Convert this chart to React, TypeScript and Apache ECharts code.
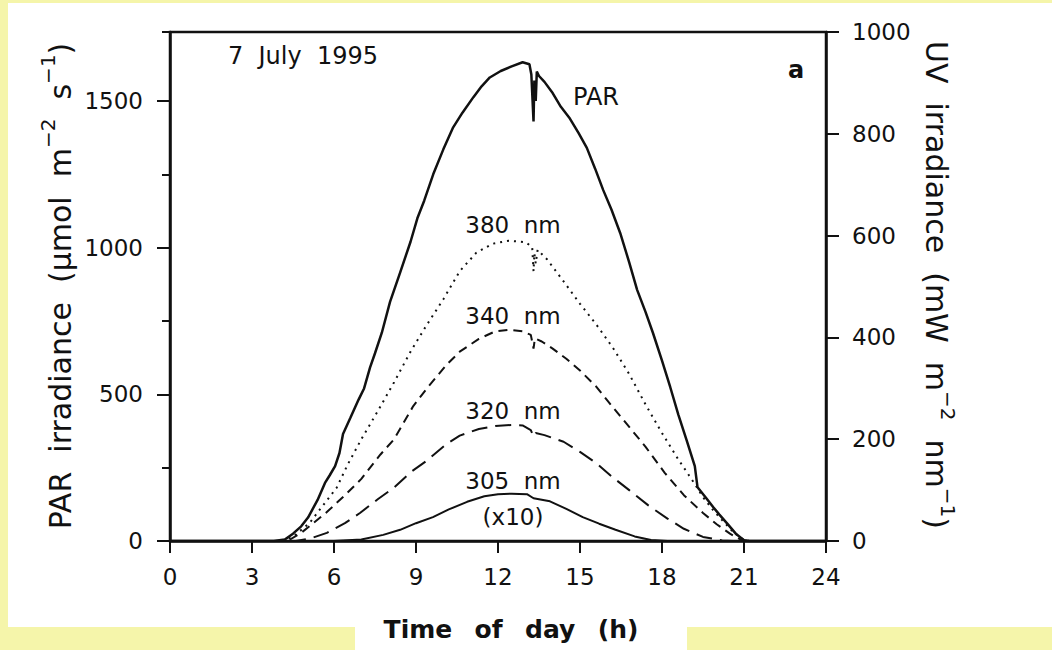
import React, { useEffect, useRef } from 'react';
import * as echarts from 'echarts';

// Hours of day (x) and irradiance values
const parData: [number, number][] = [
  [0, 0], [3.8, 0], [4.2, 5], [4.5, 25], [4.8, 50], [5.05, 80], [5.4, 140], [5.67, 198], [5.85, 225],
  [6.04, 255], [6.2, 300], [6.33, 365], [6.6, 420], [6.9, 482], [7.1, 520], [7.32, 592], [7.5, 640],
  [7.75, 710], [8.05, 815], [8.4, 910], [8.8, 1020], [9.05, 1100], [9.3, 1160], [9.63, 1250],
  [10.0, 1335], [10.36, 1410], [10.7, 1460], [11.1, 1513], [11.4, 1550], [11.7, 1580], [12.1, 1602],
  [12.5, 1618], [12.9, 1632], [13.15, 1625], [13.22, 1590], [13.3, 1430], [13.33, 1570], [13.38, 1500],
  [13.42, 1600], [13.5, 1585], [13.7, 1565], [14.0, 1527], [14.3, 1480], [14.63, 1440], [14.95, 1390],
  [15.25, 1340], [15.55, 1270], [15.85, 1196], [16.15, 1130], [16.47, 1050], [16.8, 950], [17.09, 856],
  [17.4, 780], [17.67, 709], [18.0, 615], [18.3, 525], [18.6, 430], [18.9, 344], [19.2, 255],
  [19.3, 183], [19.6, 148], [19.87, 116], [20.1, 90], [20.38, 60], [20.7, 25], [21.0, 3], [21.2, 0], [24, 0],
];

const uv380: [number, number][] = [
  [0, 0], [4.0, 0], [4.5, 8], [5.1, 35], [5.6, 70], [6.1, 105], [6.5, 150], [7.0, 200], [7.6, 255],
  [8.2, 312], [8.8, 372], [9.4, 425], [10.0, 475], [10.6, 530], [11.2, 566], [11.8, 584], [12.4, 590],
  [13.0, 587], [13.25, 578], [13.3, 530], [13.33, 565], [13.38, 545], [13.45, 572], [13.8, 553],
  [14.4, 510], [15.0, 466], [15.6, 425], [16.2, 380], [16.8, 328], [17.4, 268], [18.0, 212], [18.6, 160],
  [19.2, 112], [19.5, 86], [19.85, 62], [20.2, 41], [20.6, 18], [21.0, 2], [21.2, 0], [24, 0],
];

const uv340: [number, number][] = [
  [0, 0], [4.3, 0], [4.8, 16], [5.7, 55], [6.4, 90], [7.0, 122], [7.7, 170], [8.2, 200], [8.9, 265],
  [9.4, 300], [10.1, 345], [10.6, 372], [11.3, 397], [11.9, 412], [12.4, 415], [12.9, 412], [13.2, 405],
  [13.3, 378], [13.35, 398], [13.6, 392], [14.0, 378], [14.5, 358], [15.0, 335], [15.6, 303], [16.2, 263],
  [16.8, 224], [17.4, 185], [18.1, 134], [18.8, 90], [19.5, 55], [20.0, 33], [20.5, 14], [20.9, 2],
  [21.1, 0], [24, 0],
];

const uv320: [number, number][] = [
  [0, 0], [4.6, 0], [5.2, 6], [5.74, 16], [6.4, 35], [6.95, 55], [7.6, 82], [8.2, 105], [8.8, 135],
  [9.4, 158], [10.1, 190], [10.6, 207], [11.3, 220], [11.9, 226], [12.5, 228], [12.9, 227], [13.2, 218],
  [13.3, 205], [13.38, 212], [13.7, 208], [14.4, 195], [15.0, 175], [15.6, 153], [16.2, 125], [16.8, 100],
  [17.5, 70], [18.2, 44], [18.8, 24], [19.5, 8], [20.2, 1], [20.6, 0], [24, 0],
];

const uv305x10: [number, number][] = [
  [0, 0], [6.0, 0], [7.0, 3], [7.8, 12], [8.42, 22], [9.0, 35], [9.62, 47], [10.2, 62], [10.87, 77],
  [11.5, 88], [12.0, 92], [12.5, 93], [13.06, 92], [13.3, 84], [13.9, 78], [14.5, 63], [15.1, 47],
  [15.7, 34], [16.3, 22], [17.0, 9], [17.6, 2], [18.2, 0], [24, 0],
];

const parMajorTicks = [0, 500, 1000, 1500];
const parMinorTicks = [250, 750, 1250, 1735];
const PAR_MAX = 1735;
const UV_MAX = 1000;

export default function App() {
  const ref = useRef<HTMLDivElement>(null);

  useEffect(() => {
    if (!ref.current) return;
    const chart = echarts.init(ref.current, null, { renderer: 'svg' });
    const FONT = 'DejaVu Sans';
    const INK = '#111';
    const SP = '\u00A0\u00A0';
    const axisLineStyle = { color: INK, width: 2.5 };
    const tickLineStyle = { color: INK, width: 2 };
    const labelStyle = { color: INK, fontFamily: FONT, fontSize: 23 };

    const textEl = (text: string, x: number, y: number, fontSize: number, bold = false) => ({
      type: 'text',
      x,
      y,
      z: 100,
      style: {
        text,
        fill: INK,
        fontFamily: FONT,
        fontSize,
        fontWeight: bold ? 'bold' : 'normal',
        align: 'center',
        verticalAlign: 'middle',
      },
    });

    const richStyles = {
      n: { fontFamily: FONT, fontSize: 30, fill: INK, lineHeight: 44, verticalAlign: 'middle' },
      s: { fontFamily: FONT, fontSize: 20, fill: INK, verticalAlign: 'top' },
    };

    chart.setOption({
      animation: false,
      backgroundColor: '#f5f5aa',
      grid: {
        left: 170,
        right: 226,
        top: 32,
        bottom: 109,
        show: true,
        borderColor: INK,
        borderWidth: 2.5,
        backgroundColor: 'transparent',
      },
      xAxis: [
        {
          type: 'value',
          min: 0,
          max: 24,
          interval: 3,
          position: 'bottom',
          axisLine: { show: true, onZero: false, lineStyle: axisLineStyle },
          axisTick: { show: true, inside: false, length: 12, lineStyle: tickLineStyle },
          axisLabel: { ...labelStyle, margin: 24, formatter: (v: number) => String(v) },
          splitLine: { show: false },
        },
      ],
      yAxis: [
        {
          type: 'value',
          position: 'left',
          min: 0,
          max: PAR_MAX,
          interval: 500,
          axisLine: { show: true, onZero: false, lineStyle: axisLineStyle },
          axisTick: { show: true, inside: false, length: 13, lineStyle: tickLineStyle, customValues: parMajorTicks },
          axisLabel: {
            ...labelStyle,
            margin: 27,
            customValues: parMajorTicks,
            formatter: (v: number) => (v % 500 === 0 ? String(v) : ''),
          },
          splitLine: { show: false },
        },
        {
          type: 'value',
          position: 'right',
          min: 0,
          max: UV_MAX,
          interval: 200,
          axisLine: { show: true, onZero: false, lineStyle: axisLineStyle },
          axisTick: { show: true, inside: false, length: 13, lineStyle: tickLineStyle },
          axisLabel: { ...labelStyle, margin: 26, formatter: (v: number) => String(v) },
          splitLine: { show: false },
        },
        {
          type: 'value',
          position: 'left',
          min: 0,
          max: PAR_MAX,
          interval: 250,
          axisLine: { show: false },
          axisTick: { show: true, inside: false, length: 8, lineStyle: tickLineStyle, customValues: parMinorTicks },
          axisLabel: { show: false },
          splitLine: { show: false },
        },
      ],
      series: [
        {
          name: 'PAR',
          type: 'line',
          yAxisIndex: 0,
          data: parData,
          showSymbol: false,
          lineStyle: { color: INK, width: 2.5 },
          z: 5,
        },
        {
          name: '380 nm',
          type: 'line',
          yAxisIndex: 1,
          data: uv380,
          showSymbol: false,
          lineStyle: { color: INK, width: 2, type: [2, 5] },
          z: 4,
        },
        {
          name: '340 nm',
          type: 'line',
          yAxisIndex: 1,
          data: uv340,
          showSymbol: false,
          lineStyle: { color: INK, width: 2, type: [9, 6] },
          z: 4,
        },
        {
          name: '320 nm',
          type: 'line',
          yAxisIndex: 1,
          data: uv320,
          showSymbol: false,
          lineStyle: { color: INK, width: 2, type: [16, 8] },
          z: 4,
        },
        {
          name: '305 nm (x10)',
          type: 'line',
          yAxisIndex: 1,
          data: uv305x10,
          showSymbol: false,
          lineStyle: { color: INK, width: 2 },
          z: 4,
        },
      ],
      graphic: [
        { type: 'rect', z: -10, shape: { x: 8, y: 3, width: 1044, height: 624 }, style: { fill: '#ffffff' } },
        { type: 'rect', z: -10, shape: { x: 355, y: 627, width: 332, height: 23 }, style: { fill: '#ffffff' } },
        textEl(`7${SP}July${SP}1995`, 303, 56, 24),
        textEl('PAR', 596, 97, 24),
        textEl('a', 796, 70, 24, true),
        textEl(`380${SP}nm`, 513, 225, 23),
        textEl(`340${SP}nm`, 513, 316, 23),
        textEl(`320${SP}nm`, 513, 411, 23),
        textEl(`305${SP}nm`, 513, 481, 23),
        textEl('(x10)', 513, 517, 23),
        textEl(`Time${SP}\u2009of${SP}\u2009day${SP}\u2009(h)`, 511, 629, 25, true),
        {
          type: 'text',
          x: 60,
          y: 286,
          rotation: Math.PI / 2,
          z: 100,
          style: {
            text: `{n|PAR${SP}irradiance${SP}(µmol${SP}m}{s|−2}{n|${SP}s}{s|−1}{n|)}`,
            rich: richStyles,
            fill: INK,
            align: 'center',
            verticalAlign: 'middle',
          },
        },
        {
          type: 'text',
          x: 936,
          y: 285,
          rotation: -Math.PI / 2,
          z: 100,
          style: {
            text: `{n|UV${SP}irradiance${SP}(mW${SP}m}{s|−2}{n|${SP}nm}{s|−1}{n|)}`,
            rich: richStyles,
            fill: INK,
            align: 'center',
            verticalAlign: 'middle',
          },
        },
      ],
    });

    return () => chart.dispose();
  }, []);

  return (
    <div
      ref={ref}
      style={{ position: 'absolute', left: 0, top: 0, width: 1052, height: 650 }}
    />
  );
}
